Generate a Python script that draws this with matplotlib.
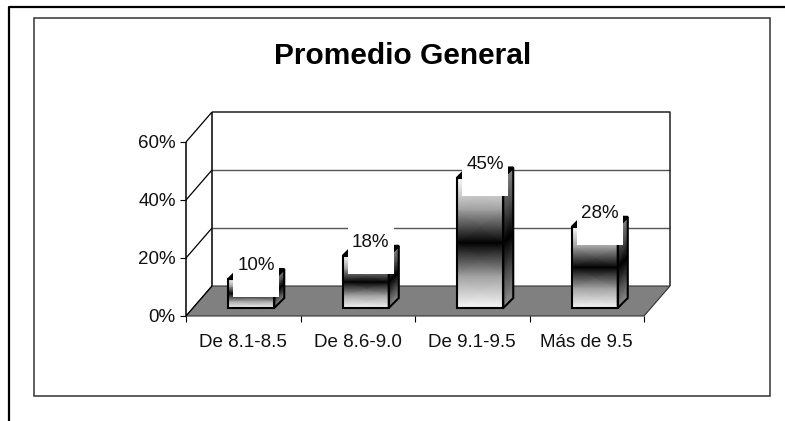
"""Promedio General: pseudo-3D column chart in the old spreadsheet style."""

import matplotlib.pyplot as plt
import numpy as np
from matplotlib.patches import Polygon, Rectangle

plt.rcParams["font.family"] = ["Liberation Sans", "DejaVu Sans"]

CATEGORIES = ["De 8.1-8.5", "De 8.6-9.0", "De 9.1-9.5", "Más de 9.5"]
VALUES = [10, 18, 45, 28]
LABELS = ["10%", "18%", "45%", "28%"]
Y_TICKS = [0, 20, 40, 60]
TITLE = "Promedio General"

# size of one pixel in data units of the front plane
PX_X = 4 / 458
PX_Y = 60 / 174
WALL_DX = 26 * PX_X
WALL_DY = 30 * PX_Y
BAR_DX = 10 * PX_X
BAR_DY = 10 * PX_Y
BAR_W = 46 * PX_X
# bars stand a little behind the front edge of the floor
BAR_SHIFT_X = 8 * PX_X
BAR_SHIFT_Y = 8 * PX_Y
TEXT_SIZE = 13.5


def draw_frames(fig):
    bg = fig.add_axes([0, 0, 1, 1], zorder=-1)
    bg.set_xlim(0, 785)
    bg.set_ylim(421, 0)
    bg.axis("off")
    bg.plot([9, 9, 785], [421, 7, 7], color="black", linewidth=1.6)
    bg.add_patch(Rectangle((33.5, 17.5), 736, 378, facecolor="white",
                           edgecolor="#333333", linewidth=1.1))


def draw_walls(ax):
    xmax = len(CATEGORIES)
    top = Y_TICKS[-1]
    line = dict(clip_on=False, solid_capstyle="butt")
    # back wall and left wall
    for tick in Y_TICKS[1:-1]:
        ax.plot([WALL_DX, xmax + WALL_DX], [tick + WALL_DY] * 2, color="#555555", linewidth=1.0, **line)
    for tick in Y_TICKS:
        ax.plot([0, WALL_DX], [tick, tick + WALL_DY], color="black", linewidth=0.9, **line)
    ax.plot([0, 0], [0, top], color="black", linewidth=1.1, **line)
    ax.plot([WALL_DX, WALL_DX], [WALL_DY, top + WALL_DY], color="black", linewidth=1.1, **line)
    ax.plot([WALL_DX, xmax + WALL_DX, xmax + WALL_DX], [top + WALL_DY, top + WALL_DY, WALL_DY],
            color="#222222", linewidth=1.1, **line)
    floor = [(0, 0), (xmax, 0), (xmax + WALL_DX, WALL_DY), (WALL_DX, WALL_DY)]
    ax.add_patch(Polygon(floor, facecolor="#808080", edgecolor="#333333", linewidth=0.8, clip_on=False))


def draw_bar(ax, index, value):
    x0 = index + 0.5 - BAR_W / 2 + BAR_SHIFT_X
    x1 = x0 + BAR_W
    y0 = BAR_SHIFT_Y
    y1 = y0 + value
    ys = np.linspace(y0, y1, 5)

    front_x, front_y = np.meshgrid([x0, x1], ys)
    shade = np.repeat([[0.97], [0.62], [0.0], [0.62], [1.0]], 2, axis=1)
    mesh = ax.pcolormesh(front_x, front_y, shade, shading="gouraud", cmap="gray", vmin=0, vmax=1, zorder=3)
    mesh.set_clip_on(False)

    side_x = np.array([[x1, x1 + BAR_DX]] * 5)
    side_y = np.column_stack([ys, ys + BAR_DY])
    shade = np.repeat([[0.55], [0.3], [0.0], [0.3], [0.5]], 2, axis=1)
    mesh = ax.pcolormesh(side_x, side_y, shade, shading="gouraud", cmap="gray", vmin=0, vmax=1, zorder=3)
    mesh.set_clip_on(False)

    outline = dict(edgecolor="black", linewidth=1.5, clip_on=False, zorder=4)
    ax.add_patch(Rectangle((x0, y0), BAR_W, value, facecolor="none", **outline))
    ax.add_patch(Polygon([(x1, y0), (x1 + BAR_DX, y0 + BAR_DY), (x1 + BAR_DX, y1 + BAR_DY), (x1, y1)],
                         facecolor="none", **outline))
    ax.add_patch(Polygon([(x0, y1), (x0 + BAR_DX, y1 + BAR_DY), (x1 + BAR_DX, y1 + BAR_DY), (x1, y1)],
                         facecolor="black", **outline))

    # white label box sits on the bar head and hides part of it
    box_x = x0 + 5 * PX_X
    box_y = y1 - 18 * PX_Y
    ax.add_patch(Rectangle((box_x, box_y), BAR_W, 48 * PX_Y, facecolor="white",
                           edgecolor="none", clip_on=False, zorder=5))
    ax.text(box_x + BAR_W / 2, box_y + 31 * PX_Y, LABELS[index], ha="center", va="center",
            fontsize=TEXT_SIZE, color="#111111", zorder=6)


def main():
    fig = plt.figure(figsize=(7.85, 4.21), dpi=100, facecolor="white")
    draw_frames(fig)

    ax = fig.add_axes([186 / 785, 105 / 421, 458 / 785, 174 / 421])
    ax.patch.set_visible(False)
    for spine in ax.spines.values():
        spine.set_visible(False)

    draw_walls(ax)
    for i, value in enumerate(VALUES):
        draw_bar(ax, i, value)

    ax.set_xlim(0, len(CATEGORIES))
    ax.set_ylim(Y_TICKS[0], Y_TICKS[-1])
    ax.set_yticks(Y_TICKS)
    ax.set_yticklabels([f"{t}%" for t in Y_TICKS], fontsize=TEXT_SIZE, color="#111111")
    ax.set_xticks(range(len(CATEGORIES) + 1))
    ax.set_xticklabels([])
    ax.set_xticks(np.arange(len(CATEGORIES)) + 0.5, labels=CATEGORIES, minor=True,
                  fontsize=TEXT_SIZE, color="#111111")
    ax.tick_params(axis="y", length=4.3, width=0.8, pad=3)
    ax.tick_params(axis="x", which="major", length=4.3, width=0.8)
    ax.tick_params(axis="x", which="minor", length=0, pad=13)

    fig.text(403 / 785, 1 - 56 / 421, TITLE, ha="center", va="center", fontsize=21.5, fontweight="bold")
    fig.savefig("out.png", dpi=100)


if __name__ == "__main__":
    main()
